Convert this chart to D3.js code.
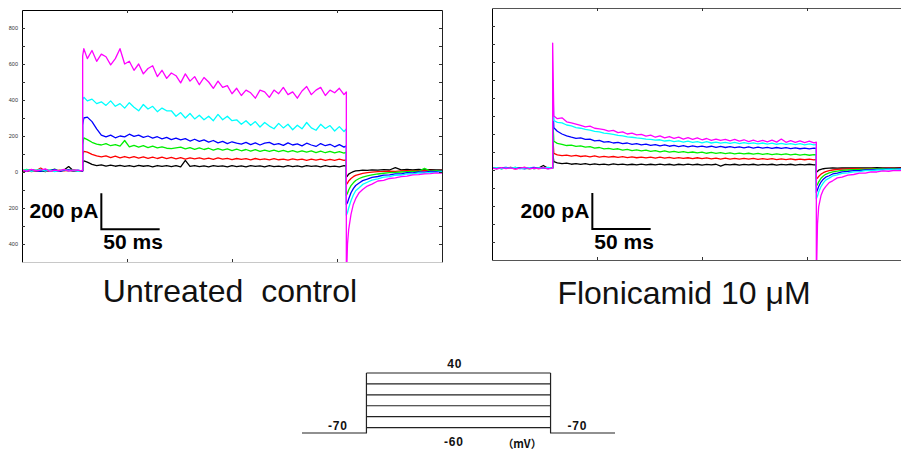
<!DOCTYPE html>
<html>
<head>
<meta charset="utf-8">
<script src="https://cdn.jsdelivr.net/npm/d3@7/dist/d3.min.js"></script>
<style>
  body { margin: 0; background: #fff; }
  svg { display: block; font-family: "Liberation Sans", Arial, sans-serif; }
</style>
</head>
<body>
<div id="my_dataviz"></div>
<script>
// sample times (ms) shared by all sweeps: holding / step / tail
var tPre  = [0,4,8,12,16,20,24,28,32,36,40,44,48,52];
var tStep = [52,53,56,60,64,68,72,76,80,84,88,92,96,100,104,108,112,116,120,124,
             128,132,136,140,144,148,152,156,160,164,168,172,176,180,184,188,192,196,200,204,
             208,212,216,220,224,228,232,236,240,244,248,252,256,260,264,268,272,276,278];
var tTail = [278,279,280,282,284,286,289,292,296,300,305,310,315,320,325,330,335,340,345,350,355,360];

// ---- untreated control sweeps (pA), pre | step | tail
var ctrlBlack = [7,3,10,5,8,2,9,6,4,11,30,7,5,8,
  50,62,55,42,36,40,33,38,32,37, 31,36,30,37,32,35,29,36,31,35, 30,36,29,65,31,36,30,34,29,35,
  31,34,28,35,30,34,29,35,31,34, 28,35,30,33,29,35,30,34,28,35, 31,34,29,35,30,33,29,35,32,
  -28,-22,-12,-4,2,6,8,10,9,12,10,13,11,24,12,15,11,14,12,13,11,12];
var ctrlRed = [4,9,2,7,22,5,8,3,10,6,9,4,8,6,
  95,115,110,98,90,84,90,80,88,79, 86,78,85,77,84,76,83,75,82,74, 81,73,80,72,79,73,78,71,77,70,
  78,71,76,69,75,70,74,68,75,69, 73,67,74,68,72,66,73,67,72,65, 71,66,72,64,70,65,71,64,68,
  -70,-62,-50,-36,-26,-19,-13,-8,-4,-1,2,3,5,4,6,7,6,8,7,9,8,9];
var ctrlGreen = [8,14,6,10,4,12,9,16,5,11,7,13,6,9,
  150,190,180,165,155,150,158,146,152,144, 175,140,148,138,146,136,144,134,140,132, 130,134,138,128,136,126,134,125,132,122,
  130,121,128,119,127,118,125,116,124,115, 122,114,121,113,120,112,119,111,118,110, 117,108,116,107,115,106,113,105,110,
  -130,-118,-100,-76,-60,-47,-36,-28,-21,-16,-11,-7,-4,-2,0,2,3,4,20,5,7,6];
var ctrlBlue = [10,5,13,8,3,11,7,15,4,9,12,6,10,5,
  260,300,305,280,240,205,195,205,190,200, 195,210,198,205,192,200,188,196,184,192, 180,188,178,185,172,182,170,178,166,175,
  162,170,158,168,160,155,165,152,162,150, 160,165,152,158,148,162,150,156,145,160, 150,142,158,146,154,140,152,138,145,
  -180,-170,-150,-115,-92,-75,-61,-48,-40,-30,-25,-17,-16,-10,-10,-4,-5,0,-1,3,2,5];
var ctrlCyan = [6,12,3,9,14,5,10,2,8,13,6,9,4,10,
  400,415,395,405,380,390,370,395,365,380, 355,385,360,340,375,350,365,335,355,340, 340,310,330,300,325,295,315,290,310,285,
  320,290,310,285,290,265,285,260,280,250, 275,255,240,270,245,265,235,260,240,275, 245,232,265,242,258,228,252,225,240,
  -240,-225,-200,-160,-128,-104,-87,-69,-57,-45,-38,-29,-26,-18,-17,-11,-10,-5,-6,-2,-2,2];
var ctrlMagenta = [12,4,15,6,10,18,3,11,7,14,5,12,9,8,
  645,685,630,675,615,655,640,595,630,685, 600,615,565,600,545,575,590,530,565,520, 550,535,495,545,505,530,485,525,500,465,
  505,470,480,435,465,425,455,440,410,455, 445,415,455,435,470,430,445,410,450,475, 430,455,470,425,455,440,465,430,445,
  -620,-400,-320,-235,-180,-148,-115,-97,-78,-67,-50,-46,-36,-33,-26,-23,-16,-15,-10,-9,-5,-6];

// ---- flonicamid 10 uM sweeps (pA)
var floBlack = [10,13,8,11,14,9,12,10,13,8,11,25,9,12,
  100,46,40,35,38,32,36,31,35,30, 34,30,33,29,34,30,33,29,32,28, 33,29,32,28,33,29,32,27,32,28,
  33,29,32,27,31,28,32,22,31,28, 32,27,31,28,32,27,31,28,32,27, 31,28,32,27,31,28,32,28,30,
  -12,-8,-1,4,7,9,10,11,10,12,11,12,11,12,11,13,12,12,11,13,12,12];
var floRed = [11,8,13,10,12,7,11,14,9,12,8,11,13,10,
  200,92,84,80,83,77,81,75,79,73, 78,72,76,71,75,70,74,69,73,68, 72,67,71,66,71,66,70,65,69,64,
  68,63,68,63,67,62,66,61,66,61, 65,60,64,60,64,59,63,59,63,58, 62,58,62,57,61,57,61,56,59,
  -50,-45,-36,-23,-15,-9,-4,0,3,5,6,7,8,7,9,8,9,10,9,10,9,10];
var floGreen = [9,12,8,13,10,14,9,11,7,12,10,13,9,11,
  300,160,148,142,136,138,131,134,127,130, 122,125,117,120,114,118,111,115,108,112, 106,110,104,108,101,106,99,104,98,102,
  96,100,95,99,93,98,92,96,91,95, 90,94,89,93,88,92,87,91,86,90, 85,89,84,88,83,87,82,86,84,
  -90,-80,-66,-46,-33,-24,-16,-10,-6,-2,0,2,4,5,6,6,7,8,7,8,8,9];
var floBlue = [12,8,11,14,9,13,10,7,12,15,9,11,8,12,
  400,235,215,200,190,182,176,178,170,172, 162,165,155,158,150,154,146,150,142,147, 140,144,137,141,134,139,132,137,130,135,
  129,134,128,133,127,132,126,131,125,130, 124,129,123,128,122,127,121,126,120,125, 120,124,119,123,118,122,117,121,120,
  -125,-110,-92,-67,-51,-40,-32,-22,-17,-10,-8,-3,-3,1,0,4,3,6,4,7,5,8];
var floCyan = [10,13,7,12,9,14,6,11,13,8,12,10,14,9,
  500,275,265,262,250,245,236,232,226,222, 215,212,205,202,198,192,190,184,182,178, 176,172,170,166,168,161,164,158,162,155,
  160,153,158,151,157,150,155,149,154,148, 153,147,152,146,151,145,150,144,149,143, 148,142,147,141,146,140,145,139,142,
  -160,-145,-122,-92,-72,-56,-45,-33,-27,-19,-16,-10,-9,-4,-4,0,0,3,2,5,4,6];
var floMagenta = [11,6,13,8,12,5,10,14,7,11,8,13,6,10,
  705,300,285,290,268,262,255,248,240,244, 232,228,224,216,220,208,212,200,205,195, 198,188,194,182,190,178,186,176,183,172,
  180,170,178,168,175,165,172,164,170,162, 170,160,168,158,166,157,165,156,166,155, 172,154,163,153,162,152,160,151,155,
  -620,-300,-205,-142,-110,-92,-70,-60,-44,-39,-28,-25,-17,-17,-10,-11,-5,-7,-2,-3,1,0];

var sweepColors = ["#000000", "#ff0000", "#00ee00", "#0000ff", "#00ffff", "#ff00ff"];

// axis ticks
var yTicks = [-400,-300,-200,-100,0,100,200,300,400,500,600,700,800];
var xTicks = [90, 180, 270];

// scale bar
var barMs = 50, barPa = 200;
var ctrlBarAt = [68, -318];
var floBarAt = [86, -328];

// voltage protocol
var stepLevelsMv = [40, 20, 0, -20, -40, -60];
var holdMv = -70;
var protocolMs = [0, 70, 270, 340];

var width = 901, height = 453;
var svg = d3.select("#my_dataviz")
  .append("svg")
    .attr("width", width)
    .attr("height", height);

var tAll = tPre.concat(tStep, tTail);

function drawPanel(id, left, top, sweeps, barAt, opts) {
  var w = 420, h = 252;
  var x = d3.scaleLinear().domain([0, 360]).range([0, w]);
  var y = d3.scaleLinear().domain([-500, 900]).range([h, 0]);

  var g = svg.append("g")
    .attr("transform", "translate(" + left + "," + top + ")");

  g.append("clipPath").attr("id", "clip-" + id)
    .append("rect").attr("width", w).attr("height", h);

  // traces
  var line = d3.line()
    .x(function(d) { return x(d[0]); })
    .y(function(d) { return y(d[1]); });

  g.append("g").attr("clip-path", "url(#clip-" + id + ")")
    .selectAll("path")
    .data(sweeps)
    .enter()
    .append("path")
      .attr("d", function(s) { return line(tAll.map(function(t, i) { return [t, s[i]]; })); })
      .attr("fill", "none")
      .attr("stroke", function(s, i) { return sweepColors[i]; })
      .attr("stroke-width", 1.3)
      .attr("stroke-linejoin", "round");

  // frame + ticks (inward)
  var yl = g.append("g").call(d3.axisLeft(y).tickValues(yTicks).tickSize(-3).tickSizeOuter(0).tickPadding(4)
      .tickFormat(function(d) { return opts.labels && d % 200 === 0 ? Math.abs(d) : ""; }));
  var yr = g.append("g").attr("transform", "translate(" + w + ",0)")
    .call(d3.axisRight(y).tickValues(yTicks).tickSize(-3).tickSizeOuter(0).tickFormat(""));
  var xt = g.append("g")
    .call(d3.axisTop(x).tickValues(xTicks).tickSize(-3).tickSizeOuter(0).tickFormat(""));
  var xb = g.append("g").attr("transform", "translate(0," + h + ")")
    .call(d3.axisBottom(x).tickValues(xTicks).tickSize(-3).tickSizeOuter(0).tickFormat(""));

  yl.select(".domain").attr("stroke", "#000");
  yr.select(".domain").attr("stroke", "#222");
  xt.select(".domain").attr("stroke", opts.topColor);
  xb.select(".domain").attr("stroke", opts.bottomColor);
  g.selectAll(".tick line").attr("stroke", "#333");
  yl.selectAll(".tick text").attr("font-size", "5.5px").attr("fill", "#333");

  // scale bar
  var bx = x(barAt[0]), by = y(barAt[1]);
  g.append("path")
    .attr("d", "M" + bx + "," + y(barAt[1] + barPa) + "V" + by + "H" + x(barAt[0] + barMs))
    .attr("fill", "none")
    .attr("stroke", "#000")
    .attr("stroke-width", 2);
  g.append("text")
    .attr("x", bx - 3)
    .attr("y", by - 11)
    .attr("text-anchor", "end")
    .attr("font-size", "21px")
    .attr("font-weight", "bold")
    .text(barPa + " pA");
  g.append("text")
    .attr("x", bx + 2)
    .attr("y", by + 20)
    .attr("font-size", "21px")
    .attr("font-weight", "bold")
    .text(barMs + " ms");

  // title under the panel
  g.append("text")
    .attr("x", opts.titleX)
    .attr("y", h + opts.titleDy)
    .attr("text-anchor", "middle")
    .attr("font-size", "32px")
    .attr("fill", "#111")
    .text(opts.title);
}

drawPanel("ctrl", 22, 10,
  [ctrlBlack, ctrlRed, ctrlGreen, ctrlBlue, ctrlCyan, ctrlMagenta], ctrlBarAt,
  { labels: true, topColor: "#000", bottomColor: "#c8c8c8", title: "Untreated\u00a0 control", titleX: 208, titleDy: 40 });

drawPanel("flo", 492, 8,
  [floBlack, floRed, floGreen, floBlue, floCyan, floMagenta], floBarAt,
  { labels: false, topColor: "#555", bottomColor: "#555", title: "Flonicamid 10 \u03bcM", titleX: 192, titleDy: 44 });

// ---- voltage protocol sketch
var px = d3.scaleLinear().domain([protocolMs[0], protocolMs[3]]).range([302, 615]);
var pv = d3.scaleLinear().domain([holdMv, 40]).range([433, 373]);

var prot = svg.append("g")
  .attr("fill", "none")
  .attr("stroke", "#222")
  .attr("stroke-width", 1.2);

prot.append("path")
  .attr("d", "M" + px(protocolMs[0]) + "," + pv(holdMv) + "H" + px(protocolMs[1]) + "V" + pv(stepLevelsMv[0]));
prot.append("path")
  .attr("d", "M" + px(protocolMs[2]) + "," + pv(stepLevelsMv[0]) + "V" + pv(holdMv) + "H" + px(protocolMs[3]));
prot.selectAll("line")
  .data(stepLevelsMv)
  .enter()
  .append("line")
    .attr("x1", px(protocolMs[1]))
    .attr("x2", px(protocolMs[2]))
    .attr("y1", function(d) { return pv(d); })
    .attr("y2", function(d) { return pv(d); });

var plab = svg.append("g")
  .attr("font-size", "12px")
  .attr("font-weight", "bold")
  .attr("text-anchor", "middle")
  .attr("fill", "#111")
  .style("letter-spacing", "0.8px");

plab.append("text").attr("x", px(166)).attr("y", pv(stepLevelsMv[0]) - 5).text(stepLevelsMv[0]);
plab.append("text").attr("x", px(39)).attr("y", pv(holdMv) - 3).text(holdMv);
plab.append("text").attr("x", px(299)).attr("y", pv(holdMv) - 3).text(holdMv);
plab.append("text").attr("x", px(165)).attr("y", pv(holdMv) + 13).text(stepLevelsMv[5]);
plab.append("text").attr("x", px(239)).attr("y", pv(holdMv) + 15)
  .attr("font-size", "11px")
  .style("font-family", "'Noto Sans CJK SC', sans-serif")
  .style("letter-spacing", "0px")
  .text("\uff08mV\uff09");
</script>
</body>
</html>
